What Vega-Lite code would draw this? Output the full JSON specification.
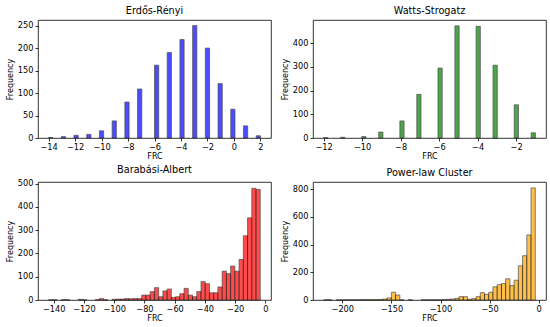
{
  "$schema": "https://vega.github.io/schema/vega-lite/v6.json",
  "padding": 5,
  "background": "white",
  "datasets": {
    "er": [
      {"start": -14.0, "end": -13.68, "count": 1},
      {"start": -13.04, "end": -12.72, "count": 3},
      {"start": -12.08, "end": -11.76, "count": 6},
      {"start": -11.12, "end": -10.8, "count": 8},
      {"start": -10.16, "end": -9.84, "count": 16},
      {"start": -9.2, "end": -8.88, "count": 38},
      {"start": -8.24, "end": -7.92, "count": 80},
      {"start": -7.28, "end": -6.96, "count": 109},
      {"start": -6.0, "end": -5.68, "count": 162},
      {"start": -5.04, "end": -4.72, "count": 190},
      {"start": -4.08, "end": -3.76, "count": 219},
      {"start": -3.12, "end": -2.8, "count": 250},
      {"start": -2.16, "end": -1.84, "count": 200},
      {"start": -1.2, "end": -0.88, "count": 121},
      {"start": -0.24, "end": 0.08, "count": 64},
      {"start": 0.72, "end": 1.04, "count": 27},
      {"start": 1.68, "end": 2.0, "count": 5}
    ],
    "ws": [
      {"start": -12.0, "end": -11.78, "count": 1},
      {"start": -11.12, "end": -10.9, "count": 3},
      {"start": -10.02, "end": -9.8, "count": 6},
      {"start": -9.14, "end": -8.92, "count": 25},
      {"start": -8.04, "end": -7.82, "count": 72},
      {"start": -7.16, "end": -6.94, "count": 184},
      {"start": -6.06, "end": -5.84, "count": 295},
      {"start": -5.18, "end": -4.96, "count": 473},
      {"start": -4.08, "end": -3.86, "count": 471},
      {"start": -3.2, "end": -2.98, "count": 307},
      {"start": -2.1, "end": -1.88, "count": 140},
      {"start": -1.22, "end": -1.0, "count": 22}
    ],
    "ba": [
      {"start": -143.4, "end": -140.6, "count": 1},
      {"start": -140.6, "end": -137.8, "count": 1},
      {"start": -135.0, "end": -132.2, "count": 1},
      {"start": -132.2, "end": -129.4, "count": 1},
      {"start": -123.8, "end": -121.0, "count": 3},
      {"start": -121.0, "end": -118.2, "count": 1},
      {"start": -112.6, "end": -109.8, "count": 1},
      {"start": -109.8, "end": -107.0, "count": 6},
      {"start": -107.0, "end": -104.2, "count": 1},
      {"start": -101.4, "end": -98.6, "count": 3},
      {"start": -98.6, "end": -95.8, "count": 4},
      {"start": -95.8, "end": -93.0, "count": 4},
      {"start": -93.0, "end": -90.2, "count": 6},
      {"start": -90.2, "end": -87.4, "count": 5},
      {"start": -87.4, "end": -84.6, "count": 6},
      {"start": -84.6, "end": -81.8, "count": 6},
      {"start": -81.8, "end": -79.0, "count": 21},
      {"start": -79.0, "end": -76.2, "count": 21},
      {"start": -76.2, "end": -73.4, "count": 36},
      {"start": -73.4, "end": -70.6, "count": 53},
      {"start": -70.6, "end": -67.8, "count": 14},
      {"start": -67.8, "end": -65.0, "count": 39},
      {"start": -65.0, "end": -62.2, "count": 47},
      {"start": -62.2, "end": -59.4, "count": 11},
      {"start": -59.4, "end": -56.6, "count": 14},
      {"start": -56.6, "end": -53.8, "count": 27},
      {"start": -53.8, "end": -51.0, "count": 50},
      {"start": -51.0, "end": -48.2, "count": 21},
      {"start": -48.2, "end": -45.4, "count": 14},
      {"start": -45.4, "end": -42.6, "count": 36},
      {"start": -42.6, "end": -39.8, "count": 79},
      {"start": -39.8, "end": -37.0, "count": 70},
      {"start": -37.0, "end": -34.2, "count": 31},
      {"start": -34.2, "end": -31.4, "count": 31},
      {"start": -31.4, "end": -28.6, "count": 56},
      {"start": -28.6, "end": -25.8, "count": 124},
      {"start": -25.8, "end": -23.0, "count": 113},
      {"start": -23.0, "end": -20.2, "count": 146},
      {"start": -20.2, "end": -17.4, "count": 124},
      {"start": -17.4, "end": -14.6, "count": 174},
      {"start": -14.6, "end": -11.8, "count": 276},
      {"start": -11.8, "end": -9.0, "count": 353},
      {"start": -9.0, "end": -6.2, "count": 480},
      {"start": -6.2, "end": -3.4, "count": 475}
    ],
    "plc": [
      {"start": -219.0, "end": -214.69, "count": 1},
      {"start": -214.69, "end": -210.38, "count": 1},
      {"start": -206.07, "end": -201.76, "count": 1},
      {"start": -201.76, "end": -197.45, "count": 1},
      {"start": -197.45, "end": -193.14, "count": 1},
      {"start": -193.14, "end": -188.83, "count": 2},
      {"start": -188.83, "end": -184.52, "count": 1},
      {"start": -184.52, "end": -180.21, "count": 2},
      {"start": -180.21, "end": -175.9, "count": 2},
      {"start": -175.9, "end": -171.59, "count": 3},
      {"start": -171.59, "end": -167.28, "count": 2},
      {"start": -167.28, "end": -162.97, "count": 3},
      {"start": -162.97, "end": -158.66, "count": 4},
      {"start": -158.66, "end": -154.35, "count": 7},
      {"start": -154.35, "end": -150.04, "count": 15},
      {"start": -150.04, "end": -145.73, "count": 56},
      {"start": -145.73, "end": -141.42, "count": 36},
      {"start": -141.42, "end": -137.11, "count": 1},
      {"start": -132.8, "end": -128.49, "count": 1},
      {"start": -119.87, "end": -115.56, "count": 1},
      {"start": -115.56, "end": -111.25, "count": 1},
      {"start": -111.25, "end": -106.94, "count": 1},
      {"start": -106.94, "end": -102.63, "count": 1},
      {"start": -102.63, "end": -98.32, "count": 2},
      {"start": -98.32, "end": -94.01, "count": 3},
      {"start": -94.01, "end": -89.7, "count": 5},
      {"start": -89.7, "end": -85.39, "count": 7},
      {"start": -85.39, "end": -81.08, "count": 12},
      {"start": -81.08, "end": -76.77, "count": 24},
      {"start": -76.77, "end": -72.46, "count": 24},
      {"start": -72.46, "end": -68.15, "count": 5},
      {"start": -68.15, "end": -63.84, "count": 10},
      {"start": -63.84, "end": -59.53, "count": 24},
      {"start": -59.53, "end": -55.22, "count": 53},
      {"start": -55.22, "end": -50.91, "count": 41},
      {"start": -50.91, "end": -46.6, "count": 56},
      {"start": -46.6, "end": -42.29, "count": 95},
      {"start": -42.29, "end": -37.98, "count": 111},
      {"start": -37.98, "end": -33.67, "count": 119},
      {"start": -33.67, "end": -29.36, "count": 153},
      {"start": -29.36, "end": -25.05, "count": 104},
      {"start": -25.05, "end": -20.74, "count": 143},
      {"start": -20.74, "end": -16.43, "count": 247},
      {"start": -16.43, "end": -12.12, "count": 320},
      {"start": -12.12, "end": -7.81, "count": 470},
      {"start": -7.81, "end": -3.5, "count": 810}
    ]
  },
  "columns": 2,
  "spacing": {"row": 44, "column": 42},
  "bounds": "flush",
  "concat": [
    {
      "title": "Erdős-Rényi",
      "width": 233,
      "height": 118,
      "data": {"name": "er"},
      "mark": {"type": "bar", "color": "blue", "opacity": 0.7, "stroke": "black", "strokeWidth": 0.7},
      "encoding": {
        "x": {"field": "start", "type": "quantitative", "scale": {"domain": [-14.8, 2.8], "nice": false, "zero": false}, "axis": {"values": [-14, -12, -10, -8, -6, -4, -2, 0, 2], "title": "FRC"}},
        "x2": {"field": "end"},
        "y": {"field": "count", "type": "quantitative", "scale": {"domain": [0, 262.5], "nice": false}, "axis": {"values": [0, 50, 100, 150, 200, 250], "title": "Frequency"}},
        "y2": {"datum": 0}
      }
    },
    {
      "title": "Watts-Strogatz",
      "width": 233,
      "height": 118,
      "data": {"name": "ws"},
      "mark": {"type": "bar", "color": "green", "opacity": 0.7, "stroke": "black", "strokeWidth": 0.7},
      "encoding": {
        "x": {"field": "start", "type": "quantitative", "scale": {"domain": [-12.55, -0.45], "nice": false, "zero": false}, "axis": {"values": [-12, -10, -8, -6, -4, -2], "title": "FRC"}},
        "x2": {"field": "end"},
        "y": {"field": "count", "type": "quantitative", "scale": {"domain": [0, 497.7], "nice": false}, "axis": {"values": [0, 100, 200, 300, 400], "title": "Frequency"}},
        "y2": {"datum": 0}
      }
    },
    {
      "title": "Barabási-Albert",
      "width": 233,
      "height": 118,
      "data": {"name": "ba"},
      "mark": {"type": "bar", "color": "red", "opacity": 0.7, "stroke": "black", "strokeWidth": 0.7},
      "encoding": {
        "x": {"field": "start", "type": "quantitative", "scale": {"domain": [-150.4, 3.7], "nice": false, "zero": false}, "axis": {"values": [-140, -120, -100, -80, -60, -40, -20, 0], "title": "FRC"}},
        "x2": {"field": "end"},
        "y": {"field": "count", "type": "quantitative", "scale": {"domain": [0, 507], "nice": false}, "axis": {"values": [0, 100, 200, 300, 400, 500], "title": "Frequency"}},
        "y2": {"datum": 0}
      }
    },
    {
      "title": "Power-law Cluster",
      "width": 233,
      "height": 118,
      "data": {"name": "plc"},
      "mark": {"type": "bar", "color": "orange", "opacity": 0.7, "stroke": "black", "strokeWidth": 0.7},
      "encoding": {
        "x": {"field": "start", "type": "quantitative", "scale": {"domain": [-229.8, 7.4], "nice": false, "zero": false}, "axis": {"values": [-200, -150, -100, -50, 0], "title": "FRC"}},
        "x2": {"field": "end"},
        "y": {"field": "count", "type": "quantitative", "scale": {"domain": [0, 853], "nice": false}, "axis": {"values": [0, 200, 400, 600, 800], "title": "Frequency"}},
        "y2": {"datum": 0}
      }
    }
  ],
  "config": {
    "font": "DejaVu Sans",
    "view": {"stroke": "black", "strokeWidth": 0.8},
    "axis": {
      "grid": false,
      "domain": false,
      "labelFont": "DejaVu Sans",
      "labelFontSize": 8.2,
      "labelColor": "black",
      "titleFont": "DejaVu Sans",
      "titleFontSize": 8,
      "titleFontWeight": "normal",
      "titleColor": "black",
      "tickColor": "black",
      "tickSize": 3,
      "tickWidth": 0.8,
      "labelPadding": 2,
      "labelFlush": false,
      "labelOverlap": false
    },
    "axisX": {"titlePadding": 2},
    "axisY": {"titlePadding": 3},
    "title": {"font": "DejaVu Sans", "fontSize": 9.7, "fontWeight": "normal", "color": "black", "offset": 4, "anchor": "middle"}
  }
}
